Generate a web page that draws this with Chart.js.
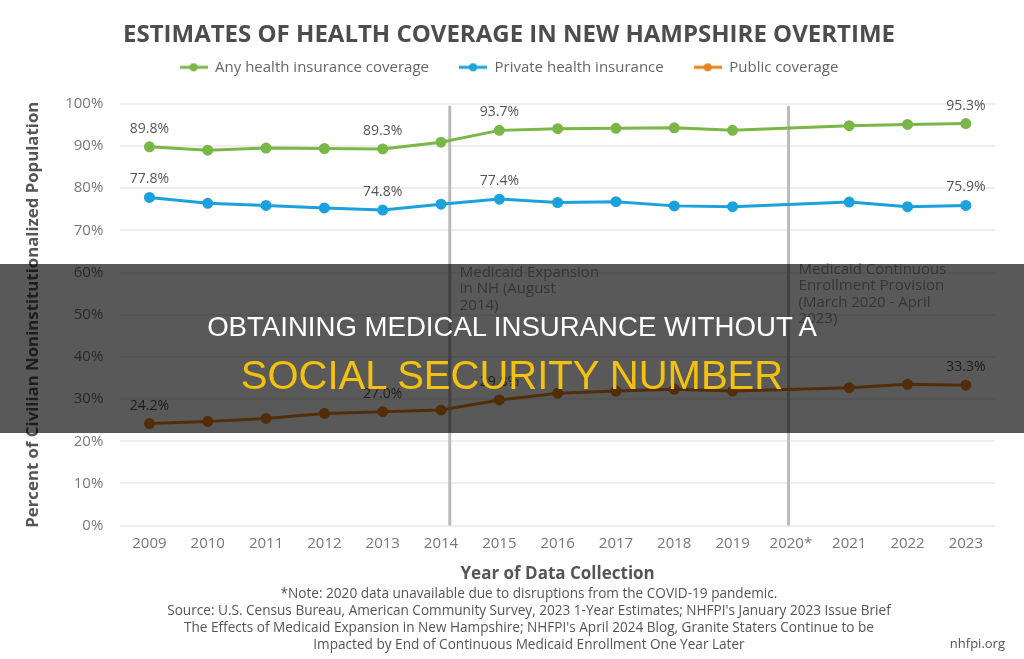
<!DOCTYPE html>
<html>
<head>
<meta charset="utf-8">
<script src="https://cdn.jsdelivr.net/npm/chart.js@4"></script>
<style>
  body { margin: 0; background: #fff; }
  #wrap { position: relative; width: 1024px; height: 659px; overflow: hidden; font-family: 'Open Sans', sans-serif; }
  #myChart { position: absolute; left: 0; top: 0; }
  .note { position: absolute; left: 0; width: 1058px; text-align: center; font-size: 13.6px; color: #555; line-height: 17px; }
  #site { position: absolute; right: 19px; top: 634px; font-size: 13px; color: #555; }
  #banner { position: absolute; left: 0; top: 264px; width: 1024px; height: 169px; background: rgba(0,0,0,0.65); }
  #banner div { position: absolute; left: 0; width: 1024px; text-align: center; font-family: 'Liberation Sans', Arial, sans-serif; line-height: 1; }
  #l1 { top: 49px; font-size: 27.6px; color: #fff; }
  #l2 { top: 91px; font-size: 40px; color: #f4c20d; }
</style>
</head>
<body>
<div id="wrap">
  <canvas id="myChart" width="1024" height="659"></canvas>
  <div class="note" style="top:584px">*Note: 2020 data unavailable due to disruptions from the COVID-19 pandemic.</div>
  <div class="note" style="top:601px">Source: U.S. Census Bureau, American Community Survey, 2023 1-Year Estimates; NHFPI's January 2023 Issue Brief</div>
  <div class="note" style="top:618px">The Effects of Medicaid Expansion in New Hampshire; NHFPI's April 2024 Blog, Granite Staters Continue to be</div>
  <div class="note" style="top:635px">Impacted by End of Continuous Medicaid Enrollment One Year Later</div>
  <div id="site">nhfpi.org</div>
  <div id="banner">
    <div id="l1">OBTAINING MEDICAL INSURANCE WITHOUT A</div>
    <div id="l2">SOCIAL SECURITY NUMBER</div>
  </div>
</div>
<script>
// data
const years = ['2009', '2010', '2011', '2012', '2013', '2014', '2015', '2016', '2017', '2018', '2019', '2020*', '2021', '2022', '2023'];
const anyCoverage = [89.8, 89.0, 89.5, 89.4, 89.3, 90.9, 93.7, 94.1, 94.2, 94.3, 93.7, null, 94.8, 95.1, 95.3];
const privateInsurance = [77.8, 76.4, 75.9, 75.3, 74.8, 76.2, 77.4, 76.6, 76.8, 75.8, 75.6, null, 76.7, 75.6, 75.9];
const publicCoverage = [24.2, 24.7, 25.4, 26.6, 27.0, 27.4, 29.8, 31.4, 31.9, 32.3, 31.9, null, 32.7, 33.5, 33.3];
const labelledYears = ['2009', '2013', '2015', '2023'];
const yTicks = [0, 10, 20, 30, 40, 50, 60, 70, 80, 90, 100];

// policy markers: [category, offset inside the category step, text lines, text top value]
const markers = [
  ['2014', 0.15, ['Medicaid Expansion', 'in NH (August', '2014)'], 61.8],
  ['2020*', -0.04, ['Medicaid Continuous', 'Enrollment Provision', '(March 2020 - April', '2023)'], 62.5]
];

let colors = {green: '#7ab648', blue: '#1ba1dc', orange: '#e8821e'};

Chart.defaults.font.family = "'Open Sans', sans-serif";
Chart.defaults.color = '#666';

function legendMark(color) {
  let c = document.createElement('canvas');
  c.width = 28; c.height = 10;
  let g = c.getContext('2d');
  g.strokeStyle = color; g.lineWidth = 3;
  g.beginPath(); g.moveTo(0, 5); g.lineTo(28, 5); g.stroke();
  g.fillStyle = color;
  g.beginPath(); g.arc(14, 5, 4, 0, Math.PI * 2); g.fill();
  return c;
}

// a bit more room under the legend
let legendGap = {
  id: 'legendGap',
  beforeInit(chart) {
    let fit = chart.legend.fit;
    chart.legend.fit = function () {
      fit.call(this);
      this.height += 19;
    };
  }
};

let markerPlugin = {
  id: 'markers',
  beforeDatasetsDraw(chart) {
    let {ctx, chartArea, scales: {x, y}} = chart;
    let step = x.getPixelForValue(1) - x.getPixelForValue(0);
    ctx.save();
    markers.forEach(([cat, off, lines, at]) => {
      let px = x.getPixelForValue(years.indexOf(cat)) + off * step;
      ctx.strokeStyle = '#bbb';
      ctx.lineWidth = 3;
      ctx.beginPath();
      ctx.moveTo(px, chartArea.top + 2);
      ctx.lineTo(px, chartArea.bottom);
      ctx.stroke();
      ctx.fillStyle = '#999';
      ctx.font = '15px "Open Sans"';
      ctx.textBaseline = 'top';
      lines.forEach((t, i) => ctx.fillText(t, px + 10, y.getPixelForValue(at) + i * 16.5));
    });
    ctx.restore();
  },
  afterDatasetsDraw(chart) {
    let ctx = chart.ctx;
    ctx.save();
    ctx.fillStyle = '#555';
    ctx.font = '14px "Open Sans"';
    ctx.textAlign = 'center';
    ctx.textBaseline = 'middle';
    chart.data.datasets.forEach((ds, i) => {
      let meta = chart.getDatasetMeta(i);
      labelledYears.forEach(yr => {
        let k = years.indexOf(yr);
        let pt = meta.data[k];
        ctx.fillText(ds.data[k].toFixed(1) + '%', pt.x, pt.y - 18);
      });
    });
    ctx.restore();
  }
};

var ctx = document.getElementById('myChart').getContext('2d');
var myChart = new Chart(ctx, {
  type: 'line',
  data: {
    labels: years,
    datasets: [
      {label: 'Any health insurance coverage', data: anyCoverage, borderColor: colors.green, backgroundColor: colors.green, legendMark: legendMark(colors.green)},
      {label: 'Private health insurance', data: privateInsurance, borderColor: colors.blue, backgroundColor: colors.blue, legendMark: legendMark(colors.blue)},
      {label: 'Public coverage', data: publicCoverage, borderColor: colors.orange, backgroundColor: colors.orange, legendMark: legendMark(colors.orange)}
    ].map(d => Object.assign(d, {borderWidth: 3, pointRadius: 4, pointHoverRadius: 4, pointStyle: 'circle', spanGaps: true, tension: 0, fill: false}))
  },
  options: {
    responsive: false,
    animation: false,
    layout: {padding: {left: 23, right: 29, top: 10, bottom: 71}},
    plugins: {
      title: {
        display: true,
        text: 'ESTIMATES OF HEALTH COVERAGE IN NEW HAMPSHIRE OVERTIME',
        color: '#4d4d4d',
        font: {size: 24, weight: 'bold'},
        padding: {top: 11, bottom: -20}
      },
      legend: {
        labels: {
          usePointStyle: true,
          pointStyleWidth: 28,
          color: '#666',
          font: {size: 15},
          padding: 30,
          generateLabels(chart) {
            return chart.data.datasets.map((d, i) => ({
              text: d.label, fillStyle: d.borderColor, strokeStyle: d.borderColor,
              pointStyle: d.legendMark, datasetIndex: i, fontColor: '#666', lineWidth: 0
            }));
          }
        }
      },
      tooltip: {enabled: false}
    },
    scales: {
      x: {
        offset: true,
        grid: {display: false},
        border: {display: false},
        ticks: {font: {size: 15}, color: '#777', padding: 1},
        title: {display: true, text: 'Year of Data Collection', color: '#555', font: {size: 17, weight: 'bold'}, padding: {top: 10}}
      },
      y: {
        min: 0, max: 100,
        afterBuildTicks(axis) { axis.ticks = yTicks.map(v => ({value: v})); },
        grid: {color: '#eee', lineWidth: 2, drawTicks: false},
        border: {display: false},
        ticks: {font: {size: 15}, color: '#777', padding: 17, callback: v => v + '%'},
        title: {display: true, text: 'Percent of Civilian Noninstitutionalized Population', color: '#555', font: {size: 16.8, weight: 'bold'}, padding: {top: 0, bottom: 5}}
      }
    }
  },
  plugins: [markerPlugin, legendGap]
});
</script>
</body>
</html>
